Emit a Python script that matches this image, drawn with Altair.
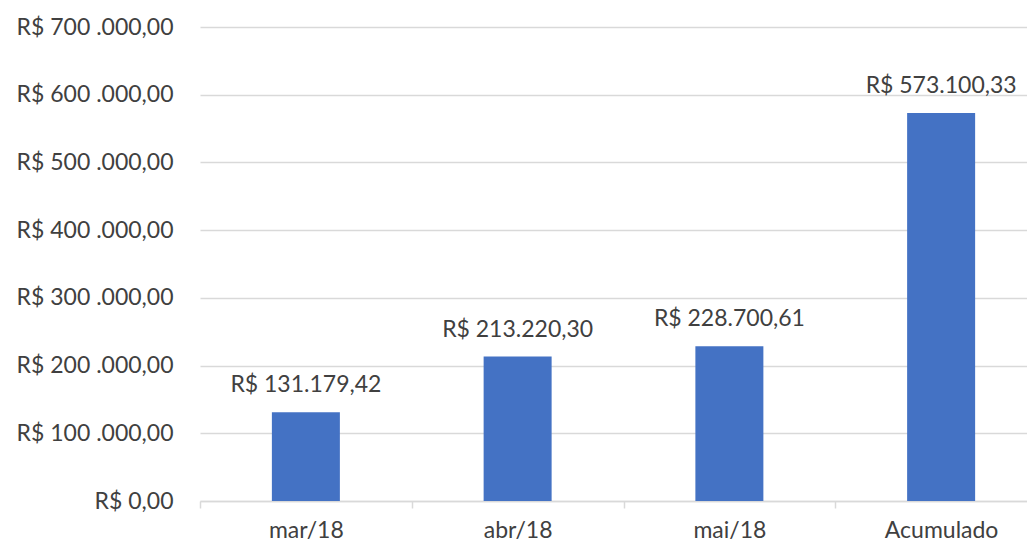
import altair as alt
import pandas as pd

categories = ["mar/18", "abr/18", "mai/18", "Acumulado"]
values = [131179.42, 213220.30, 228700.61, 573100.33]
value_labels = ["R$ 131.179,42", "R$ 213.220,30", "R$ 228.700,61", "R$ 573.100,33"]
y_ticks = [0, 100000, 200000, 300000, 400000, 500000, 600000, 700000]
y_tick_labels = ["R$ 0,00", "R$ 100 .000,00", "R$ 200 .000,00", "R$ 300 .000,00",
                 "R$ 400 .000,00", "R$ 500 .000,00", "R$ 600 .000,00", "R$ 700 .000,00"]

df = pd.DataFrame({"cat": categories, "val": values, "lab": value_labels})

label_expr = "''"
for t, l in zip(y_ticks, y_tick_labels):
    label_expr = f"datum.value == {t} ? '{l}' : ({label_expr})"

FONT = "Lato"
TXT = "#404040"
FS = 23

x = alt.X("cat:N", sort=categories, title=None,
          scale=alt.Scale(range=[0, 847], paddingInner=0, paddingOuter=0),
          axis=alt.Axis(labelAngle=0, labelFont=FONT, labelFontSize=FS, labelColor=TXT,
                        labelPadding=11, domainColor="#d9d9d9", domainWidth=1.5,
                        tickColor="#d9d9d9", tickWidth=1.5, tickSize=7, tickBand="extent",
                        grid=False))
y = alt.Y("val:Q", title=None,
          scale=alt.Scale(domain=[0, 700000], nice=False),
          axis=alt.Axis(values=y_ticks, labelExpr=label_expr, labelFont=FONT,
                        labelFontSize=FS, labelColor=TXT, labelPadding=27,
                        domain=False, ticks=False, gridColor="#d9d9d9", gridWidth=1.5))

bars = alt.Chart(df).mark_bar(color="#4472C4", size=68).encode(x=x, y=y)
text = alt.Chart(df).mark_text(font=FONT, fontSize=FS, color=TXT, baseline="bottom",
                               dy=-15).encode(x=x, y=y, text="lab:N")

chart = (bars + text).properties(
    width=827, height=474,
    autosize=alt.AutoSizeParams(type="none"),
    padding={"left": 192, "top": 19, "right": 0, "bottom": 50},
).configure_view(stroke=None)

chart.save("out.html", embed_options={"renderer": "svg", "actions": False})
